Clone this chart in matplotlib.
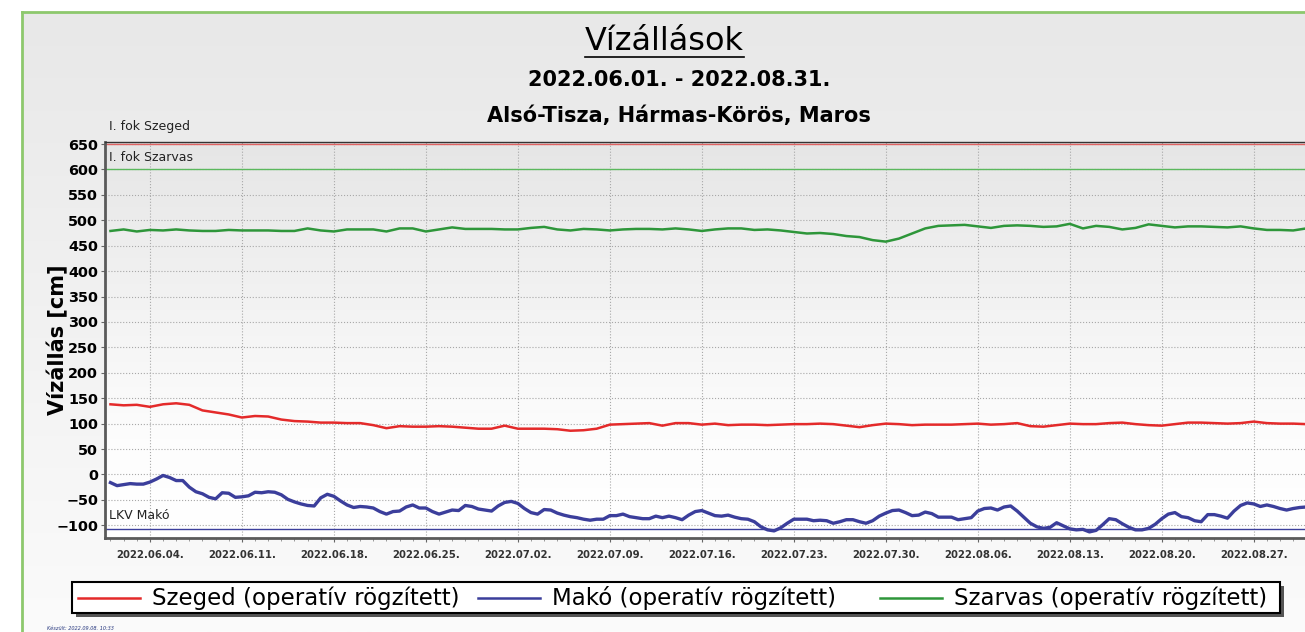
import numpy as np
import pandas as pd
import matplotlib
matplotlib.use("Agg")
import matplotlib.pyplot as plt
import matplotlib.dates as mdates
import matplotlib.transforms as mtransforms
from matplotlib.lines import Line2D
from matplotlib.patches import Rectangle
from matplotlib.colors import LinearSegmentedColormap

plt.rcParams['font.family'] = ['DejaVu Sans']

# vízállás [cm], napi értékek 2022.06.01-től
szeged = [138, 136, 137, 133, 138, 140, 137, 126, 122, 118,
          112, 115, 114, 108, 105, 104, 102, 102, 101, 101,
          97, 91, 95, 94, 94, 95, 94, 92, 90, 90,
          96, 90, 90, 90, 89, 86, 87, 90, 98, 99,
          100, 101, 96, 101, 101, 98, 100, 97, 98, 98,
          97, 98, 99, 99, 100, 99, 96, 93, 97, 100,
          99, 97, 98, 98, 98, 99, 100, 98, 99, 101,
          95, 94, 97, 100, 99, 99, 101, 102, 99, 97,
          96, 99, 102, 102, 101, 100, 101, 104, 101, 100,
          100, 99]

szarvas = [479, 482, 478, 481, 480, 482, 480, 479, 479, 481,
           480, 480, 480, 479, 479, 484, 480, 478, 482, 482,
           482, 478, 484, 484, 478, 482, 486, 483, 483, 483,
           482, 482, 485, 487, 482, 480, 483, 482, 480, 482,
           483, 483, 482, 484, 482, 479, 482, 484, 484, 481,
           482, 480, 477, 474, 475, 473, 469, 467, 461, 458,
           464, 474, 484, 489, 490, 491, 488, 485, 489, 490,
           489, 487, 488, 493, 484, 489, 487, 482, 485, 492,
           489, 486, 488, 488, 487, 486, 488, 484, 481, 481,
           480, 484]

# Makó: 12 óránkénti értékek
mako = [-16, -22, -20, -18, -19, -19, -15, -9, -2, -6,
        -12, -12, -25, -34, -38, -45, -48, -36, -37, -45,
        -44, -42, -35, -36, -34, -35, -40, -49, -54, -58,
        -61, -62, -46, -39, -43, -52, -60, -65, -63, -64,
        -66, -73, -78, -73, -72, -64, -60, -66, -66, -73,
        -78, -74, -70, -71, -61, -63, -68, -70, -72, -62,
        -55, -53, -57, -67, -75, -78, -69, -70, -76, -80,
        -83, -85, -88, -90, -88, -88, -81, -81, -78, -83,
        -85, -87, -87, -82, -85, -82, -85, -89, -80, -73,
        -71, -76, -81, -82, -80, -84, -87, -88, -93, -103,
        -109, -111, -105, -96, -88, -88, -88, -91, -90, -91,
        -96, -93, -89, -89, -93, -96, -91, -82, -76, -71,
        -70, -75, -81, -80, -74, -77, -84, -84, -84, -89,
        -87, -85, -72, -67, -66, -70, -64, -62, -72, -84,
        -96, -103, -106, -104, -95, -101, -107, -109, -108, -113,
        -110, -99, -87, -89, -97, -104, -109, -109, -106, -98,
        -87, -78, -75, -83, -85, -91, -93, -79, -79, -82,
        -86, -72, -61, -56, -58, -63, -60, -63, -67, -70,
        -67, -65, -64, -64]

szeged_dates = pd.date_range('2022-06-01', periods=len(szeged), freq='D')
szarvas_dates = pd.date_range('2022-06-01', periods=len(szarvas), freq='D')
mako_dates = pd.date_range('2022-06-01', periods=len(mako), freq='12h')

# küszöbértékek
limit_values = [650, 600, -108]
limit_labels = ['I. fok Szeged', 'I. fok Szarvas', 'LKV Makó']
limit_colors = ['#e06262', '#5bb85d', '#3c3f9c']

series_names = ['Szeged (operatív rögzített)', 'Makó (operatív rögzített)',
                'Szarvas (operatív rögzített)']
series_colors = ['#e42a2a', '#3b3e9b', '#2e963a']

y_ticks = np.arange(-100, 651, 50)

W, H = 1305, 632
fig = plt.figure(figsize=(W / 100, H / 100), dpi=100)
fig.patch.set_facecolor('white')

grad = np.linspace(0, 1, 256).reshape(-1, 1)

# panel background + green frame
bg = fig.add_axes([22 / W, 0, 1 - 22 / W, (H - 12) / H], zorder=-10)
bg.imshow(grad, aspect='auto', origin='lower', extent=[0, 1, 0, 1],
          cmap=LinearSegmentedColormap.from_list('panel', ['#fbfbfb', '#e8e8e8']))
bg.axis('off')
fig.add_artist(Line2D([22 / W, 22 / W], [0, 1 - 12 / H], color='#8dc86d', lw=2))
fig.add_artist(Line2D([22 / W, 1], [1 - 12 / H, 1 - 12 / H], color='#8dc86d', lw=2))

pos = [105 / W, 1 - 538 / H, 1218 / W, 396 / H]
axbg = fig.add_axes(pos, zorder=-5)
axbg.imshow(grad, aspect='auto', origin='lower', extent=[0, 1, 0, 1],
            cmap=LinearSegmentedColormap.from_list(
                'plot', [(0, '#ffffff'), (0.25, '#fdfdfd'), (1, '#e6e6e6')]))
axbg.axis('off')

ax = fig.add_axes(pos)
ax.set_facecolor('none')

ax.plot(szeged_dates, szeged, color=series_colors[0], lw=1.8, zorder=3)
ax.plot(mako_dates, mako, color=series_colors[1], lw=2.4, zorder=3)
ax.plot(szarvas_dates, szarvas, color=series_colors[2], lw=1.8, zorder=3)

blend = mtransforms.blended_transform_factory(ax.transAxes, ax.transData)
offsets = [8, 4, 5]
for val, lab, col, off in zip(limit_values, limit_labels, limit_colors, offsets):
    ax.axhline(val, color=col, lw=1, zorder=2)
    ax.annotate(lab, xy=(0.003, val), xycoords=blend, xytext=(0, off),
                textcoords='offset points', fontsize=9, color='#222222',
                va='bottom', ha='left', annotation_clip=False)

t0 = pd.Timestamp('2022-06-01')
ax.set_xlim(t0 - pd.Timedelta(hours=10), t0 + pd.Timedelta(days=92.27))
ax.set_ylim(-125, 654)

ax.set_xticks(pd.date_range('2022-06-04', '2022-08-31', freq='7D'))
ax.xaxis.set_major_formatter(mdates.DateFormatter('%Y.%m.%d.'))
ax.xaxis.set_minor_locator(mdates.DayLocator())
ax.set_yticks(y_ticks)
ax.tick_params(axis='x', which='major', length=3, pad=6, labelsize=7.3,
               labelcolor='#333333', color='#666666')
ax.tick_params(axis='x', which='minor', length=2, color='#888888')
ax.tick_params(axis='y', length=3, pad=2, labelsize=10.4, color='#666666')
plt.setp(ax.get_xticklabels(), fontweight='bold')
plt.setp(ax.get_yticklabels(), fontweight='bold')

ax.grid(True, which='major', ls=':', color='#a8a8a8', lw=0.8)
ax.spines['left'].set(lw=2, color='#5a5a5a')
ax.spines['bottom'].set(lw=2, color='#5a5a5a')
ax.spines['top'].set(lw=1, color='#333333')
ax.spines['right'].set_visible(False)

fig.text(58 / W, 1 - 340 / H, 'Vízállás [cm]', rotation=90, fontsize=15,
         fontweight='bold', ha='center', va='center')

title = fig.text(664 / W, 1 - 42 / H, 'Vízállások', fontsize=23,
                 ha='center', va='center')
fig.text(679 / W, 1 - 80 / H, '2022.06.01. - 2022.08.31.', fontsize=15,
         fontweight='bold', ha='center', va='center')
fig.text(679 / W, 1 - 116 / H, 'Alsó-Tisza, Hármas-Körös, Maros', fontsize=15,
         fontweight='bold', ha='center', va='center')

# legend box drawn by hand (equal column widths like the original)
lx0, lx1, ly0, ly1 = 72, 1280, 582, 613
fig.add_artist(Rectangle(((lx0 + 4) / W, 1 - (ly1 + 4) / H), (lx1 - lx0) / W,
                         (ly1 - ly0) / H, transform=fig.transFigure,
                         facecolor='#555555', edgecolor='none'))
fig.add_artist(Rectangle((lx0 / W, 1 - ly1 / H), (lx1 - lx0) / W, (ly1 - ly0) / H,
                         transform=fig.transFigure, facecolor='white',
                         edgecolor='black', lw=1.5))
col_starts = [78, 478, 880]
ly = 1 - 598 / H
for xs, name, col in zip(col_starts, series_names, series_colors):
    fig.add_artist(Line2D([xs / W, (xs + 62) / W], [ly, ly], color=col, lw=1.8))
    fig.text((xs + 74) / W, ly, name, fontsize=16.5, va='center', ha='left')

fig.text(47 / W, 1 - 628 / H, 'Készült: 2022.09.08. 10:33', fontsize=3.6,
         style='italic', color='#2a3a80', va='center')

# underline the main title
fig.canvas.draw()
bb = title.get_window_extent().transformed(fig.transFigure.inverted())
fig.add_artist(Line2D([bb.x0, bb.x1], [bb.y0 + 1 / H, bb.y0 + 1 / H],
                      color='black', lw=1.2))

fig.savefig('out.png', dpi=100)
